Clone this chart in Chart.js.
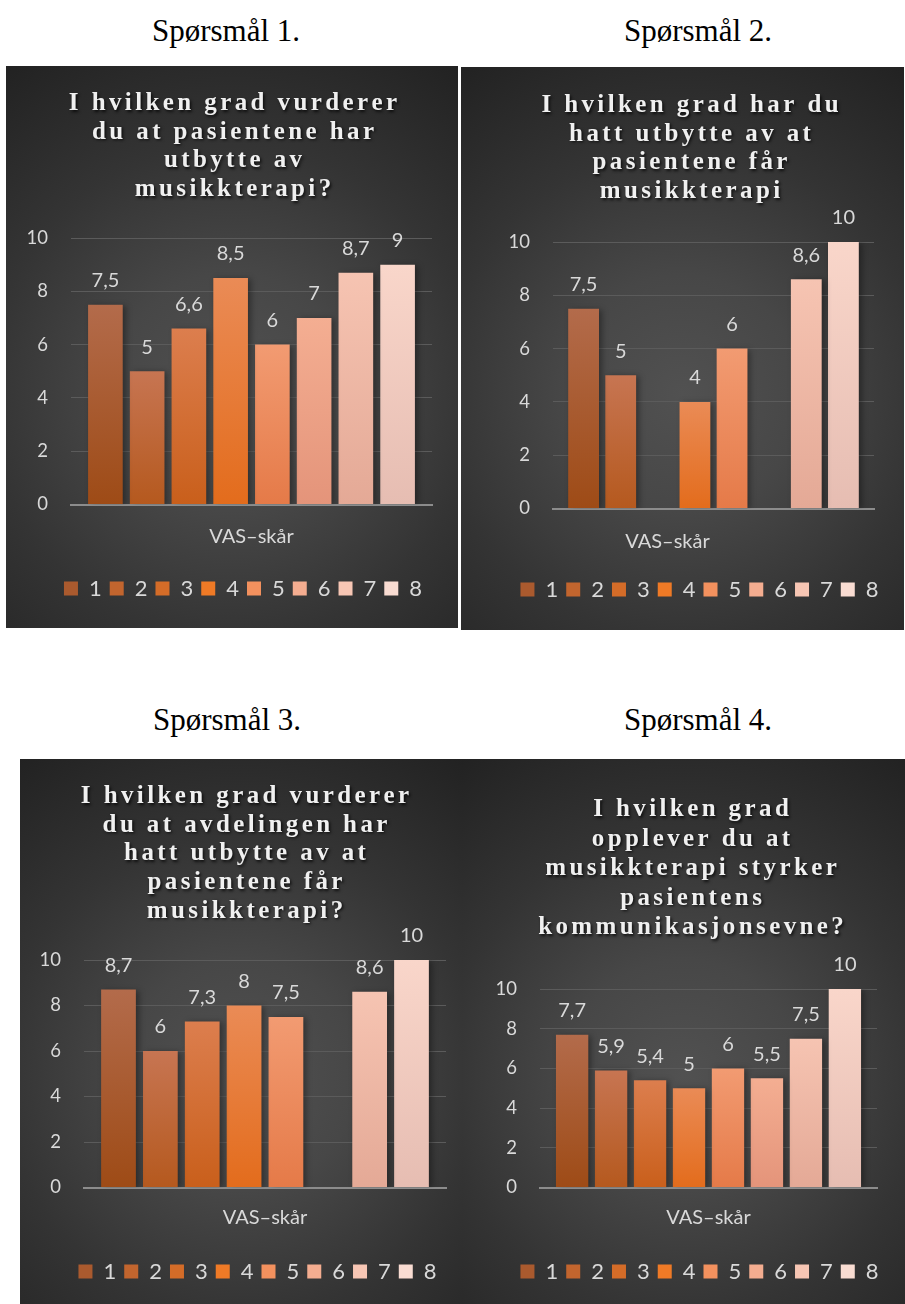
<!DOCTYPE html>
<html>
<head>
<meta charset="utf-8">
<script src="https://cdn.jsdelivr.net/npm/chart.js@4.4.1/dist/chart.umd.min.js"></script>
<style>
  body { margin: 0; background: #fff; }
  #page { position: relative; width: 905px; height: 1304px; overflow: hidden; }
  .caption { position: absolute; width: 300px; text-align: center; font-family: "Liberation Serif", serif; font-size: 31px; line-height: 36px; color: #000; }
  canvas { position: absolute; background: radial-gradient(circle farthest-corner at 50% 58%, #515151 0%, #474747 30%, #343434 62%, #222 100%); }
</style>
</head>
<body>
<div id="page">
  <div class="caption" style="left:76px; top:13px;">Spørsmål 1.</div>
  <div class="caption" style="left:548px; top:13px;">Spørsmål 2.</div>
  <div class="caption" style="left:77px; top:702px;">Spørsmål 3.</div>
  <div class="caption" style="left:548px; top:702px;">Spørsmål 4.</div>
  <canvas id="c1" width="452" height="562" style="left:6px; top:66px;"></canvas>
  <canvas id="c2" width="443" height="563" style="left:461px; top:67px;"></canvas>
  <canvas id="c3" width="442" height="545" style="left:20px; top:759px;"></canvas>
  <canvas id="c4" width="443" height="545" style="left:462px; top:759px;"></canvas>
</div>
<script>
// data
const categories = ['VAS–skår'];
const seriesNames = ['1', '2', '3', '4', '5', '6', '7', '8'];
const q1Values = [7.5, 5, 6.6, 8.5, 6, 7, 8.7, 9];
const q2Values = [7.5, 5, null, 4, 6, null, 8.6, 10];
const q3Values = [8.7, 6, 7.3, 8, 7.5, null, 8.6, 10];
const q4Values = [7.7, 5.9, 5.4, 5, 6, 5.5, 7.5, 10];

const q1Title = ['I hvilken grad vurderer', 'du at pasientene har', 'utbytte av', 'musikkterapi?'];
const q2Title = ['I hvilken grad har du', 'hatt utbytte av at', 'pasientene får', 'musikkterapi'];
const q3Title = ['I hvilken grad vurderer', 'du at avdelingen har', 'hatt utbytte av at', 'pasientene får', 'musikkterapi?'];
const q4Title = ['I hvilken grad', 'opplever du at', 'musikkterapi styrker', 'pasientens', 'kommunikasjonsevne?'];

const yMin = 0, yMax = 10, yStep = 2;

// colours
const barTop = ['#b36b4b', '#c77552', '#dc7e4e', '#ea8b56', '#f29b72', '#f4ae92', '#f6c4b2', '#f9d6ca'];
const barBottom = ['#9e4b16', '#b5591e', '#c95f1b', '#e36c1c', '#e57a48', '#e4947a', '#e4a996', '#e6bdb2'];
const swatch = ['#aa5a2e', '#c2652e', '#d46c28', '#ef7a26', '#f3915e', '#f4ad90', '#f7c6b4', '#f9dcd2'];
const textGray = '#d9d9d9';

Chart.defaults.font.family = 'Lato';

function barFill(i) {
    return function (c) {
        const chart = c.chart;
        if (!chart.chartArea || c.raw == null) return swatch[i];
        const y = chart.scales.y;
        const top = y.getPixelForValue(c.raw);
        const base = y.getPixelForValue(0);
        const g = chart.ctx.createLinearGradient(0, top, 0, base);
        g.addColorStop(0, barTop[i]);
        g.addColorStop(1, barBottom[i]);
        return g;
    };
}

// spaced serif title, value labels, bar shadow, legend nudge
const panelDeco = {
    id: 'panelDeco',
    afterLayout(chart, args, opts) {
        const lg = chart.legend;
        if (lg && opts.legendShift) {
            lg.left += opts.legendShift;
            lg.right += opts.legendShift;
        }
    },
    beforeDatasetsDraw(chart) {
        const ctx = chart.ctx;
        ctx.save();
        ctx.shadowColor = 'rgba(0,0,0,0.35)';
        ctx.shadowBlur = 6;
        ctx.shadowOffsetX = 3;
        ctx.shadowOffsetY = 1;
    },
    afterDatasetsDraw(chart) {
        const ctx = chart.ctx;
        ctx.restore();
        ctx.save();
        ctx.font = '20px Lato';
        ctx.fillStyle = textGray;
        ctx.textAlign = 'center';
        ctx.textBaseline = 'middle';
        chart.data.datasets.forEach((ds, i) => {
            chart.getDatasetMeta(i).data.forEach((bar, j) => {
                const v = ds.data[j];
                if (v == null) return;
                ctx.fillText(String(v).replace('.', ','), bar.x, bar.y - 24);
            });
        });
        ctx.restore();
    },
    afterDraw(chart, args, opts) {
        const ctx = chart.ctx;
        const sp = 3.4;
        ctx.save();
        ctx.font = 'bold 25px "Liberation Serif"';
        ctx.fillStyle = '#f0f0f0';
        ctx.textBaseline = 'alphabetic';
        ctx.shadowColor = 'rgba(0,0,0,0.75)';
        ctx.shadowBlur = 3;
        ctx.shadowOffsetX = 1.5;
        ctx.shadowOffsetY = 1.5;
        opts.lines.forEach((line, k) => {
            const chars = Array.from(line);
            const widths = chars.map(ch => ctx.measureText(ch).width);
            const total = widths.reduce((a, b) => a + b, 0) + sp * (chars.length - 1);
            let x = opts.cx - total / 2;
            const y = opts.top + k * opts.lineH;
            chars.forEach((ch, n) => {
                ctx.fillText(ch, x, y);
                x += widths[n] + sp;
            });
        });
        ctx.restore();
    }
};

function makeChart(id, values, title, lay) {
    const datasets = seriesNames.map((name, i) => ({
        label: name,
        data: [values[i]],
        backgroundColor: barFill(i),
        borderWidth: 0,
        categoryPercentage: 0.925,
        barPercentage: 0.83
    }));
    return new Chart(document.getElementById(id), {
        type: 'bar',
        data: { labels: categories, datasets: datasets },
        plugins: [panelDeco],
        options: {
            responsive: false,
            animation: false,
            devicePixelRatio: 1,
            layout: { padding: { left: 0, right: lay.padR, top: lay.padT, bottom: lay.padB } },
            scales: {
                x: {
                    grid: { display: false, drawTicks: false },
                    border: { display: true, color: '#8c8c8c', width: 2 },
                    ticks: { color: textGray, font: { size: 20 }, padding: lay.xPad, labelOffset: lay.xShift, maxRotation: 0 },
                    afterFit: s => { s.height = lay.xH; }
                },
                y: {
                    min: yMin,
                    max: yMax,
                    ticks: { stepSize: yStep, color: textGray, font: { size: 18.5 }, padding: 23 },
                    grid: {
                        drawTicks: false,
                        lineWidth: 1,
                        color: c => (c.tick && c.tick.value === 0) ? 'rgba(0,0,0,0)' : '#5b5b5b'
                    },
                    border: { display: false },
                    afterFit: s => { s.width = lay.yW; }
                }
            },
            plugins: {
                title: { display: false },
                tooltip: { enabled: false },
                legend: {
                    position: 'bottom',
                    labels: {
                        color: textGray,
                        font: { size: 22 },
                        boxWidth: 14,
                        boxHeight: 14,
                        padding: 8,
                        generateLabels: chart => chart.data.datasets.map((ds, i) => ({
                            text: ds.label,
                            fillStyle: swatch[i],
                            strokeStyle: swatch[i],
                            lineWidth: 0,
                            fontColor: textGray,
                            hidden: false,
                            datasetIndex: i
                        }))
                    }
                },
                panelDeco: { lines: title, cx: lay.titleCx, top: lay.titleTop, lineH: lay.lineH, legendShift: lay.legendShift }
            }
        }
    });
}

makeChart('c1', q1Values, q1Title, { padR: 26, padT: 172, padB: 18.5, yW: 65, xH: 65, xPad: 20, xShift: 0, legendShift: 24, titleCx: 227, titleTop: 44, lineH: 28.7 });
makeChart('c2', q2Values, q2Title, { padR: 30, padT: 175, padB: 19.5, yW: 92, xH: 62, xPad: 21, xShift: -46, legendShift: 32, titleCx: 229, titleTop: 45, lineH: 28.7 });
makeChart('c3', q3Values, q3Title, { padR: 16, padT: 201, padB: 11.5, yW: 64, xH: 65, xPad: 18, xShift: 0, legendShift: 24.5, titleCx: 225, titleTop: 44, lineH: 28.7 });
makeChart('c4', q4Values, q4Title, { padR: 28, padT: 230, padB: 11.5, yW: 78, xH: 65, xPad: 18, xShift: 0, legendShift: 30, titleCx: 229, titleTop: 57, lineH: 29.5 });
</script>
</body>
</html>
